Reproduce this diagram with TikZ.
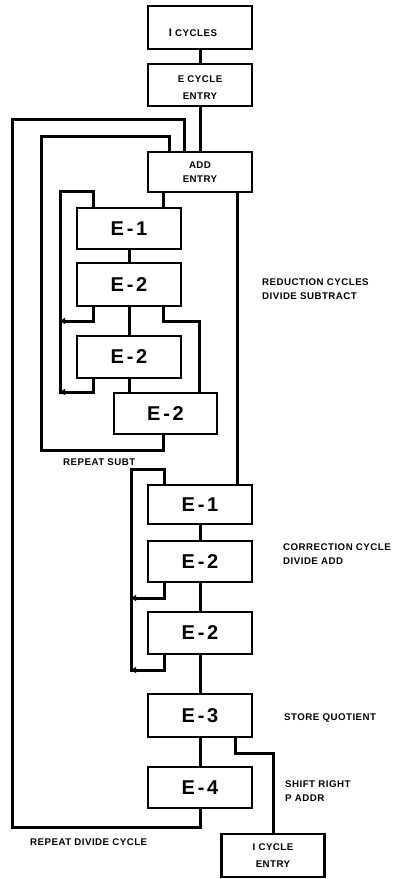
\documentclass[tikz,border=0pt]{standalone}
\usepackage{fontspec}
\usetikzlibrary{arrows.meta,calc}
\newfontfamily\lblfont[LetterSpace=5]{Liberation Sans}
\newfontfamily\bigfont[LetterSpace=14]{Liberation Sans}
\begin{document}
\begin{tikzpicture}[x=1pt,y=-1pt,
  box/.style={draw,line width=2.1pt,minimum width=104pt,inner sep=0pt,outer sep=0pt,align=center},
  small/.style={font=\lblfont\bfseries\fontsize{9.7}{14}\selectfont},
  smallwide/.style={font=\lblfont\bfseries\fontsize{9.7}{17}\selectfont},
  big/.style={font=\bigfont\bfseries\fontsize{20}{22}\selectfont},
  conn/.style={line width=3pt},
  tipc/.style={line width=3pt,-{Triangle[length=5pt,width=6pt]}},
  lbl/.style={anchor=west,align=left,inner sep=0pt,font=\lblfont\bfseries\fontsize{9.7}{14}\selectfont}]
\useasboundingbox (0,0) rectangle (394,879);
% boxes
\node[box,minimum height=43pt,
  label={[inner sep=0pt,xshift=-7pt,yshift=-5.5pt,font=\lblfont\bfseries\fontsize{9.7}{14}\selectfont]center:{\fontsize{11}{14}\selectfont I} CYCLES}] (icyc) at (200,27.5) {};
\node[box,minimum height=42pt,
  label={[inner sep=0pt,yshift=-2.5pt,align=center,font=\lblfont\bfseries\fontsize{9.7}{17}\selectfont]center:E CYCLE\\ENTRY}] (ecyc) at (200,85) {};
\node[box,small,minimum height=40pt] (add) at (200,172) {ADD\\ENTRY};
\node[box,big,minimum height=41pt] (e1a) at (129,228.5) {E-1};
\node[box,big,minimum height=43pt] (e2a) at (129,284.5) {E-2};
\node[box,big,minimum height=42pt] (e2b) at (129,357) {E-2};
\node[box,big,minimum height=41pt,minimum width=103pt] (e2c) at (165.5,413.5) {E-2};
\node[box,big,minimum height=39pt] (e1b) at (200,504.5) {E-1};
\node[box,big,minimum height=41pt] (e2d) at (200,561.5) {E-2};
\node[box,big,minimum height=42pt] (e2e) at (200,633) {E-2};
\node[box,big,minimum height=43pt] (e3) at (200,715.5) {E-3};
\node[box,big,minimum height=41pt] (e4) at (200,787.5) {E-4};
\node[box,smallwide,minimum height=43pt,minimum width=103pt] (iend) at (273,855.5) {I CYCLE\\ENTRY};
% labels
\node[lbl] (l1) at (262,289) {REDUCTION CYCLES\\DIVIDE SUBTRACT};
\node[lbl] (l2) at (63,462) {REPEAT SUBT};
\node[lbl] (l3) at (283,554) {CORRECTION CYCLE\\DIVIDE ADD};
\node[lbl] (l4) at (284,718) {STORE QUOTIENT};
\node[lbl] (l5) at (285,791) {SHIFT RIGHT\\P ADDR};
\node[lbl] (l6) at (30,842) {REPEAT DIVIDE CYCLE};
% junction coordinates
\coordinate (jA) at (60,321);
\coordinate (jB) at (60,392);
\coordinate (tA) at (60,191);
\coordinate (L2b) at (41,450);
\coordinate (L2t) at (41,136);
\coordinate (L1b) at (12.5,827);
\coordinate (L1t) at (12.5,119);
\coordinate (J4a) at (131,598);
\coordinate (J4b) at (131,670);
\coordinate (J4t) at (131,469);
\coordinate (J5) at (0,753);
% straight connectors
\draw[conn] (icyc) -- (ecyc);
\draw[conn] (ecyc) -- (add);
\coordinate (a1) at ([xshift=-18pt]e1a.north east);
\draw[conn] (a1 |- add.south) -- (a1);
\coordinate (r1) at ([xshift=-15pt]e1b.north east);
\draw[conn] (r1 |- add.south) -- (r1);
\draw[conn] (e1a) -- (e2a);
\draw[conn] (e2a) -- (e2b);
\draw[conn] (e2b.south) -- (e2b.south |- e2c.north);
\draw[conn] ([xshift=-18pt]e2a.south east) -- ([xshift=-18pt]e2a.south east |- jA) -| ([xshift=-18pt]e2c.north east);
% small loop
\draw[conn] ([xshift=16pt]e2b.south west) |- (jB) -- (tA) -| ([xshift=16pt]e1a.north west);
\draw[tipc] ([xshift=16pt]e2a.south west) |- (jA);
\draw[tipc] ([xshift=16pt]e2b.south west |- jB) -- (jB);
% repeat subtract loop
\draw[conn] ([xshift=49pt]e2c.south west) |- (L2b) -- (L2t) -| ([xshift=21pt]add.north west);
% outer loop
\draw[conn] (e4.south) |- (L1b) -- (L1t) -| ([xshift=36pt]add.north west);
% correction section
\draw[conn] (e1b) -- (e2d);
\draw[conn] (e2d) -- (e2e);
\draw[conn] (e2e) -- (e3);
\draw[conn] (e3) -- (e4);
\draw[conn] ([xshift=16pt]e2e.south west) |- (J4b) -- (J4t) -| ([xshift=16pt]e1b.north west);
\draw[tipc] ([xshift=16pt]e2d.south west) |- (J4a);
\draw[tipc] ([xshift=16pt]e2e.south west |- J4b) -- (J4b);
% exit
\coordinate (ex) at ([xshift=-17pt]e3.south east);
\draw[conn] (ex) -- (ex |- J5) -| (iend.north);
\end{tikzpicture}
\end{document}
